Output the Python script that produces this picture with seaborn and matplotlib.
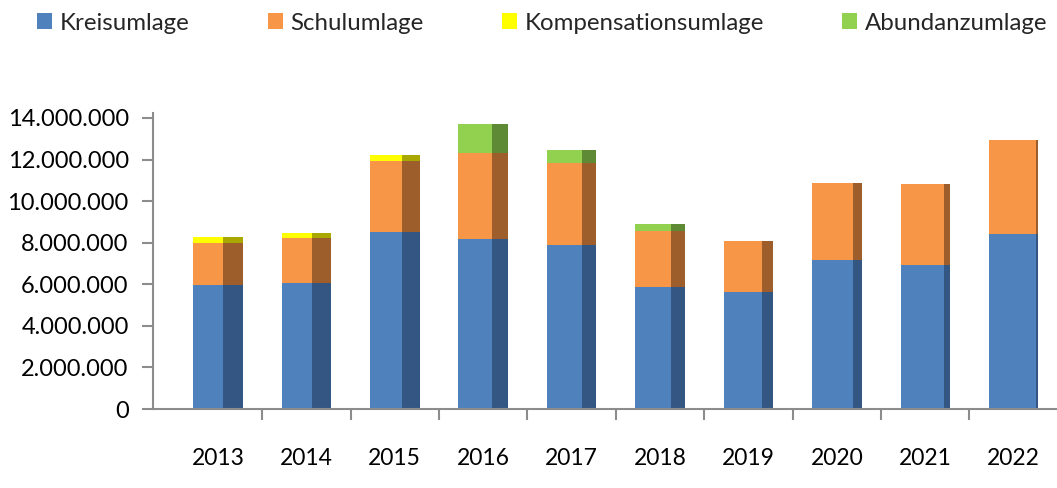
import matplotlib
matplotlib.use("Agg")
import matplotlib.pyplot as plt
import seaborn as sns
import pandas as pd
from matplotlib.patches import Rectangle, Patch
from matplotlib.ticker import FuncFormatter, FixedLocator

# ---- data (EUR) ----
years = ["2013", "2014", "2015", "2016", "2017", "2018", "2019", "2020", "2021", "2022"]
kreisumlage = [5960000, 6070000, 8510000, 8160000, 7880000, 5880000, 5610000, 7160000, 6920000, 8410000]
schulumlage = [2050000, 2150000, 3400000, 4160000, 3960000, 2690000, 2450000, 3690000, 3900000, 4520000]
kompensationsumlage = [260000, 260000, 300000, 0, 0, 0, 0, 0, 0, 0]
abundanzumlage = [0, 0, 0, 1370000, 600000, 320000, 0, 0, 0, 30000]
series_names = ["Kreisumlage", "Schulumlage", "Kompensationsumlage", "Abundanzumlage"]
y_ticks = [0, 2000000, 4000000, 6000000, 8000000, 10000000, 12000000, 14000000]

# ---- styles ----
front_colors = ["#4F81BD", "#F79646", "#FFFF00", "#92D050"]
side_colors = ["#335683", "#9E5E2B", "#A8A800", "#5F8A35"]
side_frac = [0.40, 0.38, 0.35, 0.33, 0.29, 0.27, 0.22, 0.17, 0.13, 0.05]
axis_grey = "#8C8C8C"

sns.set_theme(style="white")
plt.rcParams["font.family"] = ["Lato", "DejaVu Sans"]

df = pd.DataFrame({
    "Jahr": years,
    "Kreisumlage": kreisumlage,
    "Schulumlage": schulumlage,
    "Kompensationsumlage": kompensationsumlage,
    "Abundanzumlage": abundanzumlage,
})
cum = df[series_names].cumsum(axis=1)
for name in series_names:
    df["cum_" + name] = cum[name]

fig = plt.figure(figsize=(10.57, 4.88), dpi=100)
ax = fig.add_axes([153 / 1057, 79 / 488, 904 / 1057, 296 / 488])

# draw stacked layers from top to bottom so lower ones overlay
for idx in reversed(range(len(series_names))):
    name = series_names[idx]
    n_before = len(ax.patches)
    sns.barplot(data=df, x="Jahr", y="cum_" + name, color=front_colors[idx],
                saturation=1, width=0.56, errorbar=None, linewidth=0,
                edgecolor="none", ax=ax)
    new_patches = list(ax.patches[n_before:])
    for i, p in enumerate(new_patches):
        x0, w, h = p.get_x(), p.get_width(), p.get_height()
        ax.add_patch(Rectangle((x0 + w * (1 - side_frac[i]), 0), w * side_frac[i], h,
                               facecolor=side_colors[idx], edgecolor="none", linewidth=0))

ax.set_xlim(-0.735, 9.49)
ax.set_ylim(0, 14.24e6)
ax.set_xlabel("")
ax.set_ylabel("")
ax.grid(False)

for s in ["top", "right"]:
    ax.spines[s].set_visible(False)
for s in ["left", "bottom"]:
    ax.spines[s].set_color(axis_grey)
    ax.spines[s].set_linewidth(1.5)

ax.yaxis.set_major_locator(FixedLocator(y_ticks))
ax.yaxis.set_major_formatter(FuncFormatter(lambda v, pos: f"{int(round(v)):,}".replace(",", ".")))
ax.tick_params(axis="y", which="major", left=True, length=8, width=1.5, color=axis_grey,
               direction="out", pad=9.5, labelsize=17, labelcolor="black")
ax.tick_params(axis="x", which="major", bottom=True, length=0, pad=28,
               labelsize=16.5, labelcolor="black")
ax.xaxis.set_minor_locator(FixedLocator([i + 0.5 for i in range(len(years) - 1)]))
ax.tick_params(axis="x", which="minor", bottom=True, length=8, width=1.5,
               color=axis_grey, direction="out")

handles = [Patch(facecolor=c, edgecolor="none") for c in front_colors]
fig.legend(handles, series_names, loc="center left", bbox_to_anchor=(37 / 1057, 1 - 23 / 488),
           ncol=4, frameon=False, fontsize=17.3, handlelength=0.63, handleheight=0.63,
           handletextpad=0.32, columnspacing=3.25, borderpad=0, borderaxespad=0)

fig.savefig("out.png", dpi=100)
